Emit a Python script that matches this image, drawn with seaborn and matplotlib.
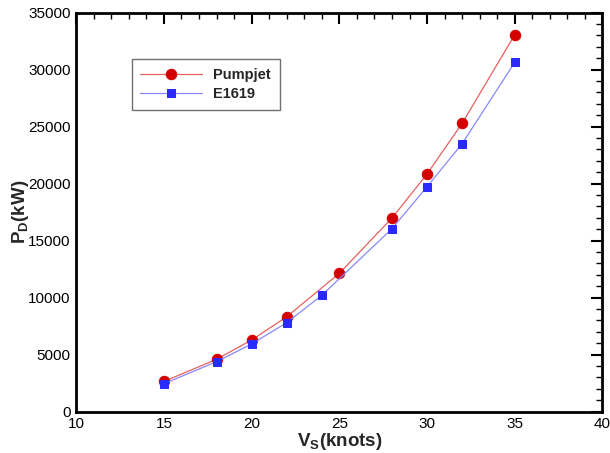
import matplotlib
matplotlib.use("Agg")
import matplotlib.pyplot as plt
import seaborn as sns
import pandas as pd
from matplotlib.ticker import MultipleLocator

# speeds (knots) and delivered power (kW)
vs_pumpjet = [15, 18, 20, 22, 25, 28, 30, 32, 35]
pd_pumpjet = [2650, 4600, 6290, 8330, 12140, 16990, 20850, 25300, 33070]

vs_e1619 = [15, 18, 20, 22, 24, 28, 30, 32, 35]
pd_e1619 = [2450, 4390, 5940, 7810, 10210, 16050, 19740, 23510, 30650]

sns.set_style("white")
plt.rcParams['font.family'] = ['Liberation Sans', 'DejaVu Sans']

df_p = pd.DataFrame({"Vs": vs_pumpjet, "PD": pd_pumpjet})
df_e = pd.DataFrame({"Vs": vs_e1619, "PD": pd_e1619})

fig = plt.figure(figsize=(6.1, 4.53), dpi=100)
ax = fig.add_axes([0.125, 0.0912, 0.8627, 0.8808])

sns.lineplot(df_p, x="Vs", y="PD", ax=ax, color="#e86060", lw=0.9,
             marker="o", ms=7.5, markerfacecolor="#d40000", markeredgecolor="#d40000",
             label="Pumpjet")
sns.lineplot(df_e, x="Vs", y="PD", ax=ax, color="#8888ff", lw=0.9,
             marker="s", ms=6, markerfacecolor="#2a2aff", markeredgecolor="#2a2aff",
             label="E1619")

ax.set_xlim(10, 40)
ax.set_ylim(0, 35000)
ax.xaxis.set_major_locator(MultipleLocator(5))
ax.xaxis.set_minor_locator(MultipleLocator(1))
ax.yaxis.set_major_locator(MultipleLocator(5000))
ax.yaxis.set_minor_locator(MultipleLocator(1000))

ax.tick_params(which="both", direction="in", top=True, right=True,
               labelsize=11, colors="black")
ax.tick_params(which="major", length=8, width=1.5, pad=4)
ax.tick_params(which="minor", length=4.5, width=1)
for sp in ax.spines.values():
    sp.set_linewidth(2)
    sp.set_color("black")

ax.set_xlabel("V$_\\mathregular{S}$(knots)", fontsize=13.5, fontweight="bold", labelpad=0)
ax.set_ylabel("P$_\\mathregular{D}$(kW)", fontsize=13.5, fontweight="bold", labelpad=-2)

leg = ax.legend(loc="upper left", bbox_to_anchor=(0.105, 0.883), borderaxespad=0,
                fancybox=False, edgecolor="#707070", framealpha=1,
                prop={"weight": "bold", "size": 10.5}, handlelength=4.2,
                handletextpad=0.8, labelspacing=0.35, borderpad=0.6)
leg.get_frame().set_linewidth(1)

fig.savefig("out.png", dpi=100)
